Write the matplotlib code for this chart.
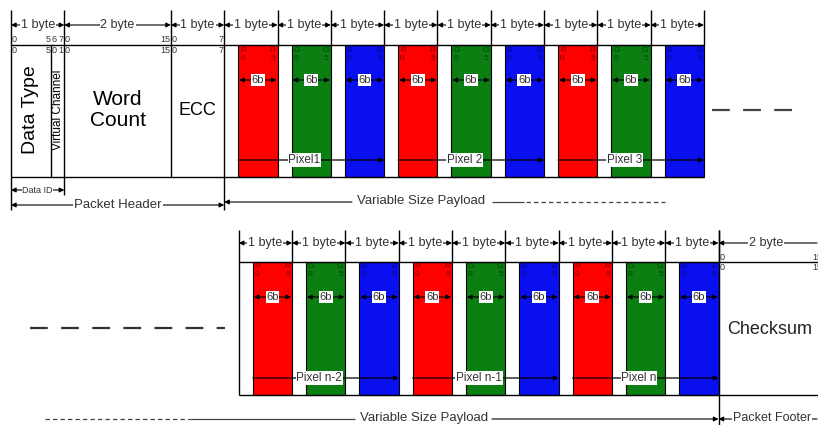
import matplotlib.pyplot as plt
from matplotlib.patches import Rectangle

plt.rcParams['font.family'] = ['Liberation Sans', 'DejaVu Sans']

# packet content
header_fields = ["Data Type", "Virtual\nChannel", "Word\nCount", "ECC"]
header_bits = [6, 2, 16, 8]
channels = ["R", "G", "B"]
channel_bits = 6
top_pixels = ["Pixel1", "Pixel 2", "Pixel 3"]
bottom_pixels = ["Pixel n-2", "Pixel n-1", "Pixel n"]
footer_label = "Checksum"
footer_bytes = 2

fill = {"R": "#ff0000", "G": "#0b7f12", "B": "#0a0ff0"}
ink = {"R": "#7a0000", "G": "#034006", "B": "#06087a"}
TXT = "#333333"
BYTE = 53.3

fig = plt.figure(figsize=(8.18, 4.25), dpi=100)
ax = fig.add_axes([0, 0, 1, 1])
ax.set_xlim(0, 818)
ax.set_ylim(425, 0)
ax.axis('off')


def line(x, y, **kw):
    kw.setdefault('color', 'black')
    kw.setdefault('lw', 1)
    ax.plot(x, y, solid_capstyle='butt', **kw)


def arrow(x0, x1, y, style='<|-|>', lw=0.8):
    ax.annotate('', xy=(x1, y), xytext=(x0, y), annotation_clip=False,
                arrowprops=dict(arrowstyle=style, color='black', lw=lw,
                                mutation_scale=7, shrinkA=0, shrinkB=0))


def label(x, y, s, size=9, **kw):
    ax.text(x, y, s, fontsize=size, color=TXT, ha='center', va='center',
            bbox=dict(fc='white', ec='none', pad=0.6), **kw)


def byte_arrow(x0, x1, y, s):
    arrow(x0, x1, y)
    label((x0 + x1) / 2, y, s)


def pixel_bytes(x_start, y_top, y_bot, names):
    for p, name in enumerate(names):
        for c, ch in enumerate(channels):
            x0 = x_start + (3 * p + c) * BYTE
            bx = x0 + 14
            ax.add_patch(Rectangle((bx, y_top), x0 + BYTE - bx, y_bot - y_top,
                                   fc=fill[ch], ec='black', lw=0.8))
            for yy, lo, hi in ((y_top + 5, ch, ch), (y_top + 13, "0", str(channel_bits - 1))):
                ax.text(bx + 2, yy, lo, fontsize=6, color=ink[ch],
                        va='center', ha='left')
                ax.text(x0 + BYTE - 2, yy, hi, fontsize=6, color=ink[ch],
                        va='center', ha='right')
            ym = y_top + 35
            arrow(bx + 1, x0 + BYTE - 1, ym)
            ax.text((bx + x0 + BYTE) / 2, ym, "%db" % channel_bits, fontsize=8,
                    color=TXT, ha='center', va='center',
                    bbox=dict(fc='white', ec='none', pad=0.5))
        x_red = x_start + 3 * p * BYTE + 14
        x_end = x_start + (3 * p + 3) * BYTE
        yp = y_bot - 17
        arrow(x_red, x_end, yp, style='-|>', lw=0.9)
        ax.text(x_start + (3 * p + 1) * BYTE + 27, yp, name, fontsize=8.5,
                color=TXT, ha='center', va='center',
                bbox=dict(fc='white', ec='none', pad=0.5))


# ---------------- top row ----------------
top, bot = 45, 177
x = 11
edges = [x]
for b in header_bits:
    x += b * BYTE / 8
    edges.append(x)

line([edges[0], edges[-1] + 9 * BYTE], [top, top])
line([edges[0], edges[-1] + 9 * BYTE], [bot, bot])
for i, e in enumerate(edges):
    if i == 1:
        line([e, e], [top, bot])
    elif i in (0, 4):
        line([e, e], [10, 210])
    elif i == 2:
        line([e, e], [10, 195])
    else:
        line([e, e], [10, bot])

# header texts
ax.text((edges[0] + edges[1]) / 2, 110, header_fields[0], fontsize=14,
        rotation=90, ha='center', va='center', color='black')
ax.text((edges[1] + edges[2]) / 2 + 0.5, 110, header_fields[1].replace("\n", " "),
        fontsize=8.5, rotation=90, ha='center', va='center', color='black')
ax.text((edges[2] + edges[3]) / 2, 110, header_fields[2], fontsize=15,
        ha='center', va='center', color='black', linespacing=1.15)
ax.text((edges[3] + edges[4]) / 2, 110, header_fields[3], fontsize=13,
        ha='center', va='center', color='black')

# bit numbers
bs = 6.5
for yy, vc in ((39, "6"), (50, "0")):
    ax.text(edges[0] + 1, yy, "0", fontsize=bs, ha='left', va='center', color=TXT)
    ax.text(edges[1] - 0.5, yy, "5", fontsize=bs, ha='right', va='center', color=TXT)
    ax.text(edges[1] + 0.5, yy, vc, fontsize=bs, ha='left', va='center', color=TXT)
    ax.text(edges[2] - 0.5, yy, "7" if vc == "6" else "1", fontsize=bs, ha='right',
            va='center', color=TXT)
    ax.text(edges[2] + 0.5, yy, "0", fontsize=bs, ha='left', va='center', color=TXT)
    ax.text(edges[3] - 0.5, yy, "15", fontsize=bs, ha='right', va='center', color=TXT)
    ax.text(edges[3] + 0.5, yy, "0", fontsize=bs, ha='left', va='center', color=TXT)
    ax.text(edges[4] - 1, yy, "7", fontsize=bs, ha='right', va='center', color=TXT)

# byte arrows
byte_arrow(edges[0], edges[2], 25, "1 byte")
byte_arrow(edges[2], edges[3], 25, "2 byte")
byte_arrow(edges[3], edges[4], 25, "1 byte")
for k in range(9):
    x0 = edges[4] + k * BYTE
    line([x0 + BYTE, x0 + BYTE], [10, top])
    byte_arrow(x0, x0 + BYTE, 25, "1 byte")

pixel_bytes(edges[4], top, bot, top_pixels)
line([712, 805], [110, 110], color='#444444', lw=1.6, ls=(0, (8, 6)))

# below top row
arrow(edges[0], edges[2], 190)
ax.text((edges[0] + edges[2]) / 2, 190, "Data ID", fontsize=6.5, color=TXT,
        ha='center', va='center', bbox=dict(fc='white', ec='none', pad=0.3))
arrow(edges[0], edges[4], 205)
label(118, 205, "Packet Header", size=9.5, )
arrow(edges[4], 352, 202, style='<|-')
ax.text(421, 201, "Variable Size Payload", fontsize=9.5, color=TXT,
        ha='center', va='center')
line([492, 524], [202, 202], color='#444444', lw=0.9)
line([526, 665], [202, 202], color='#444444', lw=0.9, ls=(0, (3.5, 2.5)))

# ---------------- bottom row ----------------
top2, bot2 = 262, 395
x0b = 718.5 - 9 * BYTE
xf = x0b + 9 * BYTE
line([x0b, 818], [top2, top2])
line([x0b, 818], [bot2, bot2])
line([x0b, x0b], [230, bot2])
for k in range(9):
    xa = x0b + k * BYTE
    line([xa + BYTE, xa + BYTE], [230, top2])
    byte_arrow(xa, xa + BYTE, 243, "1 byte")
line([xf, xf], [230, 425])
pixel_bytes(x0b, top2, bot2, bottom_pixels)

arrow(xf, 817, 243, style='<|-')
label(766, 243, "%d byte" % footer_bytes)
ax.text(xf + 1, 258, "0", fontsize=bs, ha='left', va='center', color=TXT)
ax.text(xf + 1, 268, "0", fontsize=bs, ha='left', va='center', color=TXT)
ax.text(812, 258, "15", fontsize=bs, ha='left', va='center', color=TXT)
ax.text(812, 268, "15", fontsize=bs, ha='left', va='center', color=TXT)
ax.text(727, 329, footer_label, fontsize=13, ha='left', va='center', color='#222222')

line([30, 225], [328, 328], color='#333333', lw=1.6, ls=(0, (8, 6)))

# bottom labels
yb = 419
line([45, 190], [yb, yb], color='#444444', lw=0.9, ls=(0, (3.5, 2.5)))
line([190, 355], [yb, yb], color='#444444', lw=0.9)
ax.text(424, yb - 1, "Variable Size Payload", fontsize=9.5, color=TXT,
        ha='center', va='center')
arrow(492, xf, yb, style='-|>')
arrow(xf, 817, yb, style='<|-')
label(772, yb - 1, "Packet Footer", size=9)

fig.savefig("out.png", dpi=100)
